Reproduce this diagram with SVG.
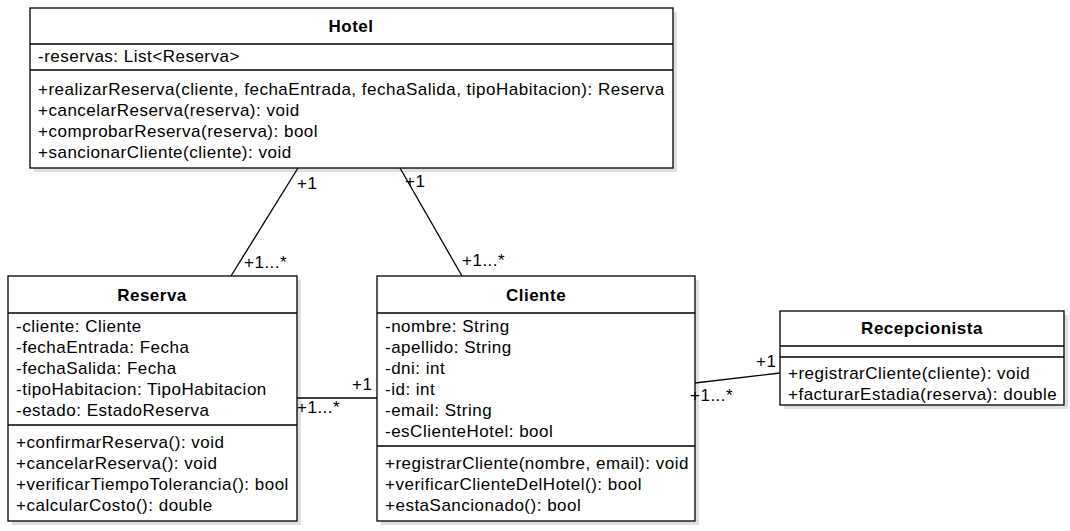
<svg xmlns="http://www.w3.org/2000/svg" width="1070" height="531" viewBox="0 0 1070 531">
<defs>
<style>
.box{fill:#fff;stroke:#000;stroke-width:1.3}
.sh{fill:#000;opacity:0.12}
.sep{stroke:#000;stroke-width:1.3}
text{font-family:"Liberation Sans",Arial,sans-serif;font-size:17px;letter-spacing:0.5px;fill:#000}
.t{font-weight:bold;text-anchor:middle}
.c line{stroke:#000;stroke-width:1.3}
</style>
</defs>
<rect width="1070" height="531" fill="#fff"/>
<g id="hotel">
<rect class="sh" x="34" y="12" width="643" height="160"/>
<rect class="box" x="30" y="8" width="643" height="160"/>
<line class="sep" x1="30" y1="44" x2="673" y2="44"/>
<line class="sep" x1="30" y1="70" x2="673" y2="70"/>
<text class="t" x="351" y="32">Hotel</text>
<text x="38" y="62">-reservas: List&lt;Reserva&gt;</text>
<text x="38" y="95">+realizarReserva(cliente, fechaEntrada, fechaSalida, tipoHabitacion): Reserva</text>
<text x="38" y="116">+cancelarReserva(reserva): void</text>
<text x="38" y="137">+comprobarReserva(reserva): bool</text>
<text x="38" y="158">+sancionarCliente(cliente): void</text>
</g>
<g id="reserva">
<rect class="sh" x="12" y="280" width="289" height="245"/>
<rect class="box" x="8" y="276" width="289" height="245"/>
<line class="sep" x1="8" y1="313" x2="297" y2="313"/>
<line class="sep" x1="8" y1="425" x2="297" y2="425"/>
<text class="t" x="152" y="301">Reserva</text>
<text x="16" y="332">-cliente: Cliente</text>
<text x="16" y="353">-fechaEntrada: Fecha</text>
<text x="16" y="374">-fechaSalida: Fecha</text>
<text x="16" y="395">-tipoHabitacion: TipoHabitacion</text>
<text x="16" y="416">-estado: EstadoReserva</text>
<text x="16" y="448">+confirmarReserva(): void</text>
<text x="16" y="469">+cancelarReserva(): void</text>
<text x="16" y="490">+verificarTiempoTolerancia(): bool</text>
<text x="16" y="511">+calcularCosto(): double</text>
</g>
<g id="cliente">
<rect class="sh" x="381" y="280" width="318" height="245"/>
<rect class="box" x="377" y="276" width="318" height="245"/>
<line class="sep" x1="377" y1="313" x2="695" y2="313"/>
<line class="sep" x1="377" y1="446" x2="695" y2="446"/>
<text class="t" x="536" y="301">Cliente</text>
<text x="385" y="332">-nombre: String</text>
<text x="385" y="353">-apellido: String</text>
<text x="385" y="374">-dni: int</text>
<text x="385" y="395">-id: int</text>
<text x="385" y="416">-email: String</text>
<text x="385" y="437">-esClienteHotel: bool</text>
<text x="385" y="469">+registrarCliente(nombre, email): void</text>
<text x="385" y="490">+verificarClienteDelHotel(): bool</text>
<text x="385" y="511">+estaSancionado(): bool</text>
</g>
<g id="recepcionista">
<rect class="sh" x="784" y="315" width="284" height="94"/>
<rect class="box" x="780" y="311" width="284" height="94"/>
<line class="sep" x1="780" y1="346" x2="1064" y2="346"/>
<line class="sep" x1="780" y1="357" x2="1064" y2="357"/>
<text class="t" x="922" y="334">Recepcionista</text>
<text x="788" y="379">+registrarCliente(cliente): void</text>
<text x="788" y="400">+facturarEstadia(reserva): double</text>
</g>
<g id="connectors" class="c">
<line x1="298" y1="168" x2="231" y2="276"/>
<line x1="400" y1="168" x2="462" y2="276"/>
<line x1="297" y1="398" x2="377" y2="398"/>
<line x1="695" y1="383" x2="780" y2="373"/>
<text x="297" y="189">+1</text>
<text x="244" y="268">+1...*</text>
<text x="405" y="187">+1</text>
<text x="462" y="266">+1...*</text>
<text x="352" y="390">+1</text>
<text x="297" y="413">+1...*</text>
<text x="756" y="367">+1</text>
<text x="690" y="401">+1...*</text>
</g>
</svg>
